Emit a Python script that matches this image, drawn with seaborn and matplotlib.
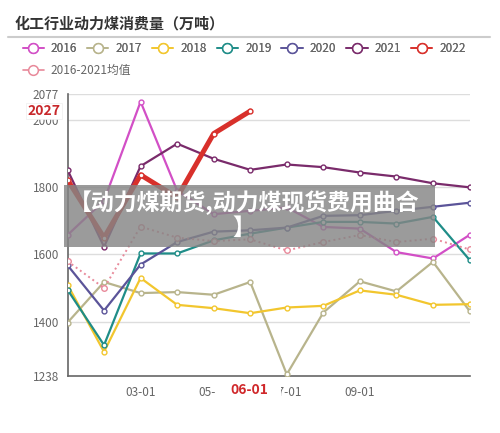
import matplotlib
matplotlib.use('Agg')
import matplotlib.pyplot as plt
import seaborn as sns
from matplotlib.lines import Line2D
from matplotlib.patches import Rectangle

# monthly consumption, 10k tonnes
months = list(range(12))
v2016 = [1658, 1760, 2055, 1790, 1720, 1730, 1740, 1682, 1677, 1607, 1588, 1658]
v2017 = [1397, 1518, 1485, 1488, 1480, 1518, 1243, 1427, 1520, 1490, 1578, 1432]
v2018 = [1510, 1310, 1530, 1450, 1440, 1425, 1442, 1447, 1493, 1480, 1450, 1452]
v2019 = [1495, 1330, 1603, 1603, 1642, 1662, 1680, 1697, 1697, 1692, 1712, 1584]
v2020 = [1568, 1433, 1570, 1637, 1668, 1672, 1680, 1715, 1717, 1730, 1742, 1754]
v2021 = [1852, 1623, 1863, 1930, 1885, 1852, 1868, 1860, 1844, 1832, 1812, 1800]
v2022 = [1822, 1650, 1837, 1770, 1960, 2027]
v_avg = [1580, 1500, 1683, 1650, 1640, 1645, 1612, 1637, 1658, 1637, 1647, 1615]

series_names = ['2016', '2017', '2018', '2019', '2020', '2021', '2022', '2016-2021均值']
colors = ['#d24fc6', '#b8b48c', '#f2c62e', '#1f8d88', '#5b5499', '#7a2b6b', '#d8302b', '#e8899a']

tick_pos = [2, 4, 6, 8]
tick_labels = ['03-01', '05-01', '07-01', '09-01']
y_ticks = [1238, 1400, 1600, 1800, 2000, 2077]

sns.set_style('white')
plt.rcParams['font.family'] = ['Noto Sans CJK SC', 'DejaVu Sans']

fig = plt.figure(figsize=(5, 4.33), dpi=100)
ax = fig.add_axes([0.135, 0.1316, 0.804, 0.6506])

for y in y_ticks[1:]:
    ax.axhline(y, color='#dddddd', lw=1, zorder=0)

all_vals = [v2016, v2017, v2018, v2019, v2020, v2021]
for vals, c in zip(all_vals, colors[:6]):
    sns.lineplot(x=months, y=vals, color=c, marker='o', markersize=3.5,
                 markerfacecolor='white', markeredgecolor=c, markeredgewidth=1,
                 linewidth=1.6, ax=ax, legend=False, zorder=3)

sns.lineplot(x=months, y=v_avg, color=colors[7], marker='o', markersize=4,
             markerfacecolor='white', markeredgecolor=colors[7], markeredgewidth=1,
             linewidth=1.4, linestyle=':', ax=ax, legend=False, zorder=3)
sns.lineplot(x=months[:len(v2022)], y=v2022, color=colors[6], marker='o', markersize=3.5,
             markerfacecolor='white', markeredgecolor=colors[6], markeredgewidth=1,
             linewidth=3.6, ax=ax, legend=False, zorder=4)

ax.set_xlim(0, 11)
ax.set_ylim(1238, 2077)
ax.set_yticks(y_ticks)
ax.set_yticklabels([str(t) for t in y_ticks])
ax.set_xticks(tick_pos)
ax.set_xticklabels(tick_labels)
ax.tick_params(axis='both', labelsize=8.5, labelcolor='#666666', color='#666666',
               length=4, width=1)
ax.tick_params(axis='y', pad=2)
ax.tick_params(axis='x', pad=3)
ax.set_xlabel('')
ax.set_ylabel('')
for side in ['top', 'right']:
    ax.spines[side].set_visible(False)
for side in ['left', 'bottom']:
    ax.spines[side].set_color('#666666')
    ax.spines[side].set_linewidth(1.2)

# pointer labels drawn over the normal tick labels
ax.text(-0.018, 2027, '2027', transform=ax.get_yaxis_transform(), ha='right', va='center',
        color='#c8282b', fontsize=10, fontweight='bold',
        bbox=dict(boxstyle='square,pad=0.1', fc='white', ec='#eeeeee', lw=0.5))
fig.add_artist(Rectangle((216 / 500, 1 - 399 / 433), 65 / 500, 19 / 433,
                         transform=fig.transFigure, facecolor='white', edgecolor='none',
                         zorder=5))
fig.text(249 / 500, 1 - 390 / 433, '06-01', ha='center', va='center',
         color='#d0282b', fontsize=10, fontweight='bold', zorder=6)

# title and separator
fig.text(0.03, 0.945, '化工行业动力煤消费量（万吨）', ha='left', va='center',
         fontsize=10.8, fontweight='bold', color='#333333')
fig.add_artist(Line2D([0.016, 0.98], [0.915, 0.915], color='#cccccc', lw=1.5))

# legend
handles = [Line2D([0], [0], color=c, lw=1.2, marker='o', markersize=7,
                  markerfacecolor='white', markeredgecolor=c, markeredgewidth=1.1)
           for c in colors]
leg1 = fig.legend(handles[:7], series_names[:7], loc='upper left',
                  bbox_to_anchor=(0.045, 0.903), ncol=7, frameon=False, fontsize=8.5,
                  handlelength=1.8, handletextpad=0.6, columnspacing=0.85,
                  borderpad=0, borderaxespad=0, labelcolor='#666666')
leg2 = fig.legend(handles[7:], series_names[7:], loc='upper left',
                  bbox_to_anchor=(0.045, 0.853), frameon=False, fontsize=8.5,
                  handlelength=1.8, handletextpad=0.6,
                  borderpad=0, borderaxespad=0, labelcolor='#666666')
fig.add_artist(leg1)

# watermark banner
fig.add_artist(Rectangle((0.128, 1 - 247 / 433), 0.742, 62 / 433, transform=fig.transFigure,
                         facecolor='#858585', alpha=0.82, edgecolor='none', zorder=10))
fig.text(0.488, 1 - 215 / 433, '【动力煤期货,动力煤现货费用曲合\n】', ha='center', va='center',
         fontsize=16.5, fontweight='bold', color='white', linespacing=1.1, zorder=11)

fig.savefig('out.png', dpi=100)
